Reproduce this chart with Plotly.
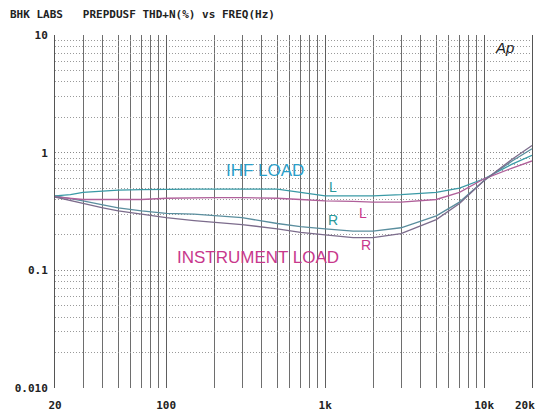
import math
import plotly.graph_objects as go

freq = [20, 25, 30, 40, 50, 70, 100, 150, 200, 300, 500, 700, 1000, 1500, 2000, 3000, 5000, 7000, 10000, 15000, 20000]
ihf_l = [0.43, 0.44, 0.46, 0.47, 0.48, 0.485, 0.49, 0.49, 0.49, 0.49, 0.49, 0.46, 0.43, 0.43, 0.43, 0.44, 0.46, 0.50, 0.60, 0.80, 0.95]
ihf_r = [0.43, 0.41, 0.39, 0.36, 0.34, 0.32, 0.305, 0.30, 0.29, 0.28, 0.25, 0.235, 0.225, 0.215, 0.215, 0.23, 0.29, 0.38, 0.58, 0.85, 1.08]
inst_l = [0.42, 0.41, 0.40, 0.40, 0.40, 0.40, 0.41, 0.415, 0.415, 0.415, 0.41, 0.40, 0.39, 0.385, 0.38, 0.38, 0.40, 0.46, 0.60, 0.74, 0.85]
inst_r = [0.42, 0.39, 0.37, 0.34, 0.32, 0.30, 0.28, 0.265, 0.255, 0.245, 0.225, 0.21, 0.20, 0.19, 0.19, 0.205, 0.27, 0.37, 0.58, 0.88, 1.15]

x_tick_vals = [20, 100, 1000, 10000, 20000]
x_tick_text = ["20", "100", "1k", "10k", ""]
x_end_label = "20k"
x_minor_vals = [30, 40, 50, 60, 70, 80, 90, 200, 300, 400, 500, 600, 700, 800, 900,
                2000, 3000, 4000, 5000, 6000, 7000, 8000, 9000]
y_tick_vals = [0.01, 0.1, 1, 10]
y_tick_text = ["0.010", "0.1", "1", "10"]
y_minor_vals = [m * d for d in (0.01, 0.1, 1) for m in range(2, 10)]

title_text = "BHK LABS\u00a0\u00a0\u00a0PREPDUSF THD+N(%) vs FREQ(Hz)"

TEAL = "#2a9a9c"
MAG = "#c8388c"

fig = go.Figure()
fig.add_trace(go.Scatter(x=freq, y=ihf_l, mode="lines", line=dict(color="#3a9aa6", width=1.3), name="IHF L"))
fig.add_trace(go.Scatter(x=freq, y=ihf_r, mode="lines", line=dict(color="#5a8e9e", width=1.3), name="IHF R"))
fig.add_trace(go.Scatter(x=freq, y=inst_l, mode="lines", line=dict(color="#b0609a", width=1.3), name="INST L"))
fig.add_trace(go.Scatter(x=freq, y=inst_r, mode="lines", line=dict(color="#7c6c8c", width=1.3), name="INST R"))

mono = dict(family="DejaVu Sans Mono", size=11, color="#222", weight="bold")

def lx(f):
    return math.log10(f)

def ly(v):
    return math.log10(v)

anns = [
    dict(x=lx(420), y=ly(0.70), text="IHF LOAD", font=dict(family="Liberation Sans", size=17, color="#2a9ec8")),
    dict(x=lx(380), y=ly(0.129), text="INSTRUMENT LOAD", font=dict(family="Liberation Sans", size=17, color=MAG)),
    dict(x=lx(1120), y=ly(0.51), text="L", font=dict(family="Liberation Sans", size=14, color=TEAL)),
    dict(x=lx(1120), y=ly(0.267), text="R", font=dict(family="Liberation Sans", size=14, color=TEAL)),
    dict(x=lx(1730), y=ly(0.307), text="L", font=dict(family="Liberation Sans", size=14, color=MAG)),
    dict(x=lx(1810), y=ly(0.164), text="R", font=dict(family="Liberation Sans", size=14, color=MAG)),
    dict(x=lx(13500), y=ly(7.9), text="<i>Ap</i>", font=dict(family="Liberation Sans", size=15, color="#222")),
]
for a in anns:
    a.update(xref="x", yref="y", showarrow=False)
fig.update_layout(annotations=anns)
fig.add_annotation(xref="paper", yref="paper", x=-0.0985, y=1.058, xanchor="left", yanchor="middle",
                   text=title_text, showarrow=False, font=mono)
# last x tick label, pulled in so it stays inside the page
fig.add_annotation(xref="paper", yref="paper", x=1, y=0, xanchor="right", yanchor="middle",
                   xshift=5, yshift=-17, text=x_end_label, showarrow=False, font=mono)

# the page body has an 8px margin, so the figure is sized to fit inside the window
fig.update_layout(
    width=536, height=403,
    margin=dict(l=47, r=12, t=27, b=23),
    paper_bgcolor="white", plot_bgcolor="white",
    showlegend=False,
    xaxis=dict(type="log", range=[math.log10(20), math.log10(20000)], automargin=False,
               tickmode="array", tickvals=x_tick_vals, ticktext=x_tick_text,
               tickfont=mono, ticks="", showgrid=True, gridcolor="#5e5e5e", gridwidth=1,
               showline=False, zeroline=False, ticklabelstandoff=9, ticklabeloverflow="allow",
               minor=dict(tickmode="array", tickvals=x_minor_vals, showgrid=True,
                          gridcolor="#6e6e6e", gridwidth=1, ticks="")),
    yaxis=dict(type="log", range=[-2, 1], automargin=False,
               tickmode="array", tickvals=y_tick_vals, ticktext=y_tick_text,
               tickfont=mono, ticks="", showgrid=True, gridcolor="#8a8a8a", gridwidth=1,
               griddash="1px,2px", showline=True, linecolor="#555", linewidth=1, mirror=True,
               zeroline=False, ticklabelstandoff=4, ticklabeloverflow="allow",
               minor=dict(tickmode="array", tickvals=y_minor_vals, showgrid=True,
                          gridcolor="#9a9a9a", gridwidth=1, griddash="1px,2px", ticks="")),
)

fig.write_html("out.html")
